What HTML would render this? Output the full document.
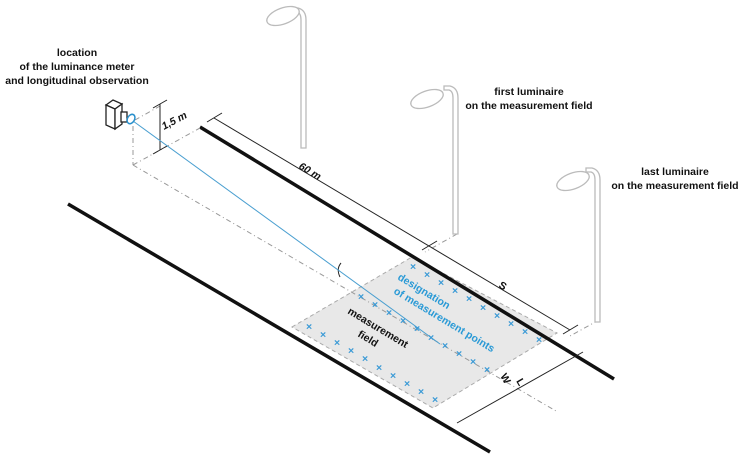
<!DOCTYPE html>
<html><head><meta charset="utf-8"><style>
html,body{margin:0;padding:0;background:#fff}
svg{display:block}
text{font-family:"Liberation Sans","DejaVu Sans",sans-serif;font-weight:bold;font-size:10.5px;fill:#111}
</style></head><body>
<svg width="756" height="462" viewBox="0 0 756 462" xmlns="http://www.w3.org/2000/svg">
<polygon points="292,327 412,257 557,333 433,408" fill="#e8e8e8" stroke="#aaa" stroke-width="1" stroke-dasharray="4,3"/>
<line x1="68" y1="204" x2="490" y2="452" stroke="#111" stroke-width="3.5"/>
<line x1="200" y1="127" x2="614" y2="379" stroke="#111" stroke-width="3.5"/>
<g stroke="#999" stroke-width="1" stroke-dasharray="5,3,1,3" fill="none">
<line x1="133" y1="126" x2="133" y2="165"/>
<line x1="133" y1="165" x2="556" y2="411"/>
<line x1="133" y1="165" x2="200" y2="128"/>
<line x1="135" y1="120" x2="160" y2="106"/>
<line x1="457" y1="234" x2="425" y2="252"/>
<line x1="599" y1="320" x2="570" y2="336"/>
</g>
<g stroke="#222" stroke-width="1" fill="none">
<line x1="160" y1="104" x2="160" y2="150"/>
<line x1="153" y1="108" x2="167" y2="100"/>
<line x1="153" y1="154" x2="167" y2="146"/>
<line x1="214" y1="118" x2="570" y2="330"/>
<line x1="207" y1="122" x2="222" y2="113"/>
<line x1="422" y1="250" x2="437" y2="241"/>
<line x1="563" y1="334" x2="578" y2="325"/>
<line x1="457" y1="423" x2="583" y2="352"/>
<path d="M341 263 q-5 6 -1 14"/>
</g>
<line x1="133" y1="121" x2="440" y2="344" stroke="#4a9fd0" stroke-width="1"/>
<g stroke="#222" stroke-width="1.3" fill="#fff">
<polygon points="106,105 113,100 122,104 115,109"/>
<polygon points="106,105 115,109 115,129 106,125"/>
<polygon points="115,109 122,104 122,124 115,129"/>
<rect x="121" y="112" width="6" height="10" />
</g>
<ellipse cx="131" cy="119" rx="3.5" ry="5" transform="rotate(30 131 119)" fill="none" stroke="#2a90cc" stroke-width="1.5"/>
<g font-size="10" style="font-weight:normal">
<g id="r1">
<text x="410" y="270" style="fill:#3a9ad6">×</text><text x="424" y="278" style="fill:#3a9ad6">×</text><text x="438" y="286" style="fill:#3a9ad6">×</text><text x="452" y="294" style="fill:#3a9ad6">×</text><text x="466" y="302" style="fill:#3a9ad6">×</text><text x="480" y="311" style="fill:#3a9ad6">×</text><text x="494" y="319" style="fill:#3a9ad6">×</text><text x="508" y="327" style="fill:#3a9ad6">×</text><text x="522" y="335" style="fill:#3a9ad6">×</text><text x="536" y="343" style="fill:#3a9ad6">×</text>
</g>
<g transform="translate(-52,30)"><use href="#r1"/></g>
<g transform="translate(-104,60)"><use href="#r1"/></g>
</g>
<g stroke="#bbb" stroke-width="1.3" fill="#fff">
<path d="M306 148 V20 q0 -10 -8 -12 h-6 v4 h5 q4 1 4 8 V148 z"/>
<ellipse cx="283" cy="16" rx="17" ry="8" transform="rotate(-20 283 16)"/>
<path d="M458 234 V98 q0 -10 -8 -12 h-6 v4 h5 q4 1 4 8 V234 z"/>
<ellipse cx="427" cy="99" rx="17" ry="8" transform="rotate(-20 427 99)"/>
<path d="M600 322 V180 q0 -10 -8 -12 h-6 v4 h5 q4 1 4 8 V322 z"/>
<ellipse cx="573" cy="181" rx="17" ry="8" transform="rotate(-20 573 181)"/>
</g>
<text x="77" y="56" text-anchor="middle">location</text>
<text x="77" y="70" text-anchor="middle">of the luminance meter</text>
<text x="77" y="84" text-anchor="middle">and longitudinal observation</text>
<text x="529" y="95" text-anchor="middle">first luminaire</text>
<text x="529" y="109" text-anchor="middle">on the measurement field</text>
<text x="675" y="175" text-anchor="middle">last luminaire</text>
<text x="675" y="189" text-anchor="middle">on the measurement field</text>
<text x="0" y="0" transform="translate(164,130) rotate(-28)" font-style="italic">1,5 m</text>
<text x="0" y="0" transform="translate(298,168) rotate(31)" font-style="italic">60 m</text>
<text x="0" y="0" transform="translate(498,287) rotate(31)">S</text>
<text x="0" y="0" transform="translate(500,376) rotate(60)" font-size="12">W</text>
<text x="0" y="0" transform="translate(516,381) rotate(60)" font-size="7">L</text>
<text x="0" y="0" transform="translate(347,313) rotate(31)">measurement</text>
<text x="0" y="0" transform="translate(357,336) rotate(31)">field</text>
<text x="0" y="0" transform="translate(397,279) rotate(31)" style="fill:#2a9ad6">designation</text>
<text x="0" y="0" transform="translate(393,293) rotate(31)" style="fill:#2a9ad6">of measurement points</text>
</svg>
</body></html>
